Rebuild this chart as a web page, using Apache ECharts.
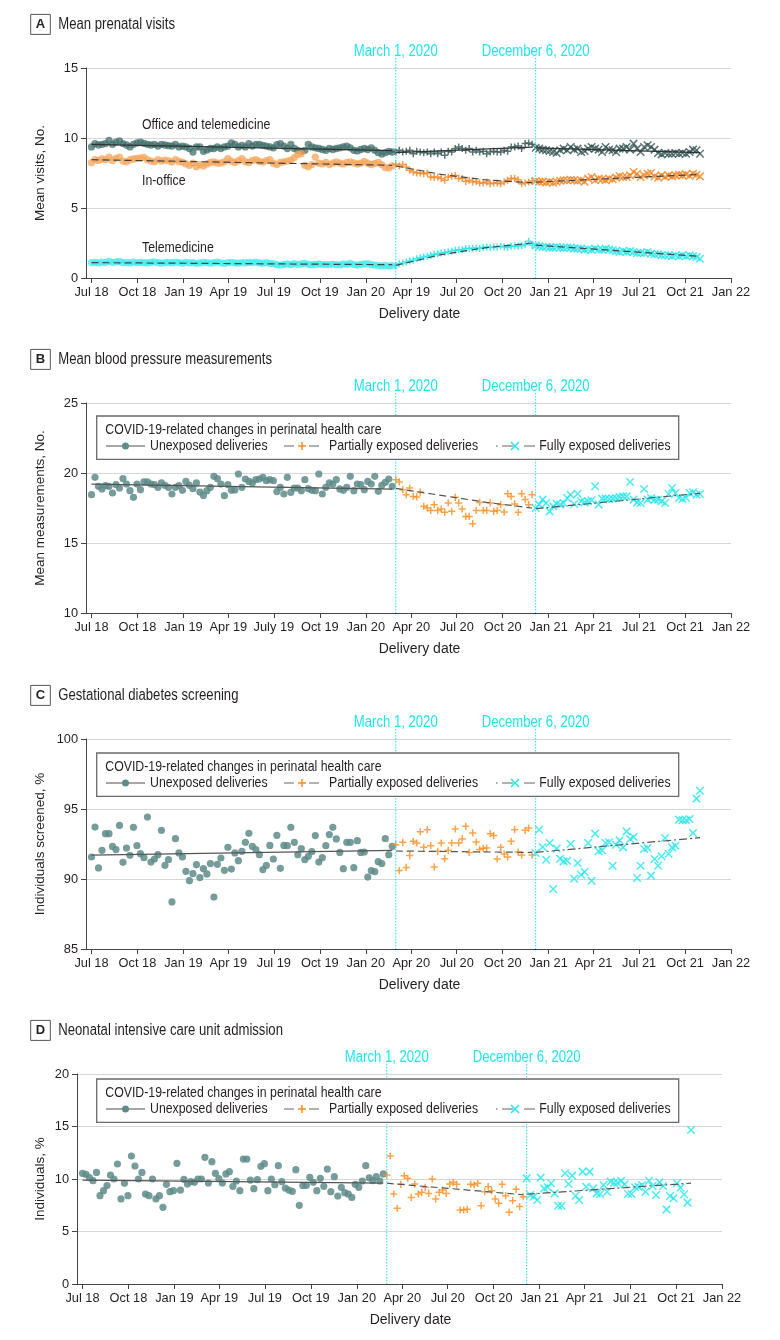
<!DOCTYPE html>
<html><head><meta charset="utf-8">
<script src="https://cdn.jsdelivr.net/npm/echarts@6/dist/echarts.min.js"></script>
<style>html,body{margin:0;padding:0;background:#fff}#c{width:780px;height:1340px}</style>
</head><body><div id="c"></div>
<script>
// ---------------- DATA ----------------
// weekly deliveries starting week of Jul 1, 2018; periods: unexposed, partially exposed (from Mar 1 2020), fully exposed (from Dec 6 2020)
const quarterTicks = ['2018-07-01','2018-10-01','2019-01-01','2019-04-01','2019-07-01','2019-10-01','2020-01-01','2020-04-01','2020-07-01','2020-10-01','2021-01-01','2021-04-01','2021-07-01','2021-10-01','2022-01-01'];
const tickLabelsA = ['Jul 18','Oct 18','Jan 19','Apr 19','Jul 19','Oct 19','Jan 20','Apr 19','Jul 20','Oct 20','Jan 21','Apr 19','Jul 21','Oct 21','Jan 22'];
const tickLabelsB = ['Jul 18','Oct 18','Jan 19','Apr 19','July 19','Oct 19','Jan 20','Apr 20','Jul 20','Oct 20','Jan 21','Apr 21','Jul 21','Oct 21','Jan 22'];
const tickLabelsCD = ['Jul 18','Oct 18','Jan 19','Apr 19','Jul 19','Oct 19','Jan 20','Apr 20','Jul 20','Oct 20','Jan 21','Apr 21','Jul 21','Oct 21','Jan 22'];
const eventDates = ['2020-03-01','2020-12-06'];
const eventLabels = ['March 1, 2020','December 6, 2020'];
const legendTitle = 'COVID-19-related changes in perinatal health care';
const legendNames = ['Unexposed deliveries','Partially exposed deliveries','Fully exposed deliveries'];

// Panel A: mean prenatal visits
const aOfficeTeleUnexp = [9.36,9.6,9.5,9.55,9.6,9.83,9.55,9.7,9.8,9.6,9.5,9.36,9.55,9.65,9.7,9.62,9.55,9.5,9.55,9.42,9.55,9.5,9.45,9.42,9.55,9.36,9.42,9.36,9.25,9.0,9.36,9.36,9.05,9.15,9.25,9.25,9.36,9.25,9.36,9.42,9.65,9.55,9.36,9.48,9.36,9.6,9.42,9.55,9.55,9.48,9.42,9.36,9.3,9.52,9.6,9.42,9.25,9.55,9.25,9.12,9.05,9.12,9.55,9.36,9.3,9.25,9.18,9.12,9.25,9.18,9.25,9.3,9.36,9.42,9.3,9.12,9.08,9.18,9.25,9.18,9.3,9.12,8.95,8.85,8.95,9.05,9.0];
const aOfficeTelePart = [9.0,9.12,9.0,9.05,9.12,8.88,9.05,9.0,8.95,9.0,8.88,9.0,8.88,9.0,8.76,9.05,9.0,9.25,9.36,9.25,9.12,9.25,9.0,9.12,9.0,9.05,8.88,9.0,9.05,9.0,9.0,9.12,9.05,9.36,9.36,9.42,9.25,9.6,9.65,9.55];
const aOfficeTeleFull = [9.31,9.24,9.17,9.12,9.07,9.0,8.93,9.12,9.24,9.12,9.36,9.17,9.24,9.0,9.07,9.24,9.36,9.24,9.17,9.0,9.36,9.17,9.12,9.0,9.24,9.24,9.36,9.17,9.6,9.24,9.0,9.36,9.48,9.36,9.17,8.93,8.83,8.93,8.88,8.88,8.93,8.88,8.93,8.88,9.0,9.17,9.12,8.88];
const aInOfficeUnexp = [8.24,8.45,8.4,8.5,8.45,8.64,8.4,8.55,8.64,8.35,8.3,8.45,8.5,8.55,8.58,8.62,8.45,8.35,8.3,8.45,8.35,8.42,8.38,8.28,8.45,8.32,8.28,8.15,8.05,8.2,7.95,8.1,8.0,8.15,8.25,8.3,8.2,8.22,8.3,8.52,8.35,8.25,8.38,8.52,8.3,8.25,8.4,8.45,8.32,8.28,8.38,8.45,8.2,8.1,8.25,8.3,8.35,8.42,8.6,8.83,8.88,8.05,7.95,8.1,8.64,8.2,8.15,8.25,8.1,8.2,8.3,8.2,8.15,8.25,8.3,8.22,8.15,8.2,8.32,8.2,8.1,8.18,8.25,8.1,7.9,7.86,8.0];
const aInOfficePart = [8.12,8.0,8.1,7.93,7.69,7.57,7.5,7.5,7.45,7.5,7.21,7.17,7.21,7.1,6.98,7.21,7.26,7.33,7.1,7.1,6.9,6.98,6.86,6.9,6.79,6.79,6.86,6.74,6.79,6.79,6.74,6.86,6.98,7.1,7.1,7.02,6.74,6.79,6.86,6.93];
const aInOfficeFull = [6.93,6.88,6.88,6.83,6.88,6.81,6.88,6.95,6.98,6.98,7.02,6.98,6.95,6.98,6.88,7.1,7.21,6.98,7.1,7.05,6.98,7.1,7.05,7.17,7.29,7.21,7.21,7.33,7.57,7.45,7.21,7.33,7.45,7.5,7.26,7.17,7.33,7.21,7.33,7.26,7.33,7.38,7.33,7.4,7.29,7.45,7.38,7.26];
const aTeleUnexp = [1.1,1.12,1.08,1.14,1.1,1.2,1.12,1.15,1.18,1.1,1.12,1.08,1.14,1.1,1.12,1.1,1.08,1.12,1.15,1.1,1.06,1.1,1.12,1.08,1.14,1.1,1.06,1.12,1.08,1.1,1.05,1.08,1.12,1.1,1.06,1.1,1.14,1.08,1.05,1.1,1.12,1.08,1.06,1.1,1.08,1.12,1.1,1.14,1.08,1.06,1.1,1.05,1.02,0.95,0.92,0.98,1.0,0.96,1.02,0.98,1.0,1.04,0.98,0.95,0.98,1.0,0.96,0.98,0.95,0.98,0.96,0.94,1.0,0.98,1.04,0.96,0.92,0.98,1.0,1.02,0.95,0.92,0.88,0.86,0.9,0.85,0.88];
const aTelePart = [0.9,1.02,1.07,1.14,1.21,1.26,1.38,1.45,1.5,1.55,1.62,1.69,1.74,1.79,1.83,1.88,1.93,1.98,2.02,2.02,2.1,2.1,2.12,2.14,2.1,2.17,2.21,2.17,2.21,2.21,2.26,2.21,2.17,2.26,2.29,2.29,2.33,2.4,2.62,2.36];
const aTeleFull = [2.33,2.26,2.21,2.21,2.17,2.17,2.21,2.17,2.14,2.17,2.17,2.1,2.1,2.1,2.02,2.05,2.02,2.1,2.02,2.02,2.1,2.02,1.98,1.93,1.86,1.93,1.86,1.93,1.86,1.79,1.79,1.79,1.86,1.74,1.69,1.69,1.62,1.62,1.62,1.55,1.62,1.55,1.62,1.55,1.62,1.55,1.5,1.38];
const trendAOfficeTele = [[9.55,9.1],[8.95,9.35],[9.3,8.95]];
const trendAInOffice = [[8.45,8.05],[8.0,7.4,7.0,6.8],[6.85,7.4]];
const trendATele = [[1.1,0.95],[0.9,1.67,2.17,2.5],[2.35,1.55]];

// Panel B: mean blood pressure measurements
const bUnexp = [18.45,19.69,19.05,18.86,19.10,19.05,18.57,19.17,18.93,19.6,19.21,18.74,18.26,19.21,18.81,19.36,19.36,19.21,19.17,18.98,19.29,19.12,18.98,18.5,18.98,19.1,18.76,19.4,19.12,18.88,19.29,18.64,18.4,18.74,18.98,19.76,19.6,19.21,18.38,19.17,18.76,18.79,19.93,18.98,19.57,19.4,19.29,19.52,19.57,19.69,19.45,19.52,19.45,18.67,18.98,18.5,19.69,18.62,18.93,18.93,18.74,19.52,18.88,18.76,18.74,19.93,18.5,18.98,19.29,19.21,19.52,18.86,18.76,18.98,19.76,18.74,19.21,19.17,18.81,19.4,19.21,19.76,18.69,19.12,19.33,19.57,19.05];
const bPart = [19.52,19.36,18.81,18.45,18.93,18.33,18.29,18.64,17.62,17.5,17.33,17.74,17.33,17.43,17.19,17.86,17.26,18.26,17.86,17.43,16.9,16.9,16.38,17.33,17.9,17.33,17.33,17.86,17.26,17.33,17.74,17.21,18.52,18.33,17.79,17.19,18.52,18.1,17.74,18.45];
const bFull = [17.5,17.74,18.1,17.86,17.26,17.62,17.81,17.74,17.86,18.21,18.45,17.79,18.52,17.98,17.9,17.98,18.05,19.05,17.74,18.17,18.17,18.14,18.17,18.21,18.29,18.33,18.33,19.36,18.1,17.9,17.86,18.86,18.1,18.21,18.1,18.1,17.98,17.86,18.5,18.93,18.57,18.21,18.14,18.21,18.57,18.62,18.45,18.5];
const trendB = [[19.2,18.85],[18.9,18.4,17.9,17.5],[17.45,18.55]];

// Panel C: gestational diabetes screening (%)
const cUnexp = [91.57,93.71,90.79,92.05,93.24,93.24,92.33,92.1,93.83,91.19,92.21,91.69,93.69,92.38,91.81,91.52,94.43,91.21,91.43,91.74,93.48,90.98,91.38,88.36,92.88,91.86,91.57,90.55,89.88,90.38,91.02,90.1,90.74,90.36,91.1,88.71,91.05,91.5,90.62,92.26,90.71,91.86,91.31,91.98,92.62,93.26,92.33,92.1,91.74,90.67,90.98,92.4,91.43,93.12,90.76,92.4,92.38,93.69,92.62,91.74,92.17,91.38,91.62,91.95,93.1,91.21,91.52,92.38,93.17,93.69,92.86,91.9,90.74,92.62,92.62,90.81,92.74,91.9,91.93,90.14,90.6,90.52,91.24,91.1,92.88,91.74,92.33];
const cPart = [92.45,90.6,92.62,90.83,91.67,92.69,92.57,93.38,92.26,93.52,92.38,90.86,91.98,92.57,91.45,92.05,92.57,93.57,92.57,92.86,93.76,91.9,93.29,92.64,92.1,92.19,92.21,93.24,93.1,91.43,92.26,91.79,91.57,92.69,93.52,91.93,91.71,93.48,93.64,91.71];
const cFull = [91.86,93.52,92.29,91.38,92.57,89.29,92.17,91.45,91.26,91.31,92.52,90.02,91.14,90.31,90.5,92.57,89.88,93.24,91.98,92.05,92.57,92.62,90.95,92.45,92.76,92.26,93.4,92.86,93.0,90.07,90.95,92.14,92.21,90.24,91.43,90.95,91.62,92.93,91.81,92.26,92.38,94.24,94.19,94.19,94.29,93.29,95.74,96.31];
const trendC = [[91.7,92.05],[92.0,91.9],[91.9,92.95]];

// Panel D: NICU admission (%)
const dUnexp = [10.54,10.44,10.13,9.84,10.63,8.41,8.89,9.37,10.38,10.0,11.43,8.1,9.59,8.41,12.19,11.24,10.0,10.63,8.57,8.41,10.0,8.1,8.41,7.3,9.49,8.79,8.89,11.49,8.95,9.97,9.52,9.75,9.68,10.0,10.0,12.06,9.62,11.65,10.54,10.03,9.62,10.48,10.7,9.3,9.81,8.89,11.9,11.9,9.9,9.08,9.94,11.21,11.46,8.89,10.0,9.46,11.27,9.75,9.14,8.95,8.83,10.89,7.49,9.37,9.4,10.16,9.68,8.89,10.06,9.3,10.95,8.79,10.22,8.38,9.21,8.7,8.57,8.25,9.49,9.21,9.81,11.27,10.1,9.84,10.22,9.81,10.48];
const dPart = [10.38,12.19,8.57,7.21,9.49,10.32,10.06,8.25,9.52,8.57,8.73,9.21,8.63,10.0,8.1,8.73,8.95,8.63,9.52,9.68,9.49,7.05,7.05,7.11,9.49,9.43,9.59,7.46,8.79,9.27,8.89,8.1,7.68,9.49,8.41,6.83,7.94,9.02,7.37,8.32];
const dFull = [10.06,8.48,8.32,8.0,10.13,9.11,9.21,9.59,8.63,7.46,7.46,10.54,9.52,10.32,8.41,8.0,10.7,9.27,10.7,9.11,8.63,8.57,9.43,8.79,9.75,9.65,9.65,9.84,9.49,8.57,8.57,9.21,9.27,9.43,8.79,9.84,9.33,8.48,9.68,9.33,7.11,8.38,8.16,9.59,9.17,8.54,7.75,14.67];
const trendD = [[9.9,9.6],[9.6,8.5],[8.55,9.6]];

// ---------------- STYLE / LAYOUT ----------------
const FONT = '"Liberation Sans", Arial, sans-serif';
const SX = 0.82; // horizontal condensing of decorative text to match the narrow journal typeface
const CYAN = '#1fe6ee';
const TEXT = '#231f20';
const DAY = 86400000;
const WEEK0 = Date.UTC(2018, 6, 1);
const toTs = s => { const p = s.split('-').map(Number); return Date.UTC(p[0], p[1]-1, p[2]); };
const tickTs = quarterTicks.map(toTs);
const weekDate = i => WEEK0 + i * 7 * DAY;
const SYM = { circle: 'circle', plus: 'path://M5,0L5,10M0,5L10,5', cross: 'path://M0,0L10,10M10,0L0,10' };
const kinds = ['circle', 'plus', 'cross'];
const dashes = ['solid', [7, 4], [8, 3, 2, 3]];

const panels = [
  { letter:'A', title:'Mean prenatal visits', yName:'Mean visits, No.', yMin:0, yMax:15,
    grid:{left:86, top:68, width:645, height:210}, labels: tickLabelsA, legendTop:null,
    groups:[
      {periods:[aOfficeTeleUnexp,aOfficeTelePart,aOfficeTeleFull], trend:trendAOfficeTele, colors:['#40706c','#2f5250','#2f5250'], trendColor:'#333', trendDash:['solid','solid','solid']},
      {periods:[aInOfficeUnexp,aInOfficePart,aInOfficeFull], trend:trendAInOffice, colors:['#f7a65a','#f5821f','#f5821f'], trendColor:'#444', trendDash:[[7,4],[7,4],[7,4]]},
      {periods:[aTeleUnexp,aTelePart,aTeleFull], trend:trendATele, colors:['#43ecec','#1fe6ee','#1fe6ee'], trendColor:'#444', trendDash:[[7,4],[7,4],[7,4]]}
    ], symSize:[7.3,7,7.5], circleOpacity:0.75 },
  { letter:'B', title:'Mean blood pressure measurements', yName:'Mean measurements, No.', yMin:10, yMax:25,
    grid:{left:86, top:403, width:645, height:210}, labels: tickLabelsB, legendTop:416,
    groups:[{periods:[bUnexp,bPart,bFull], trend:trendB, colors:['#5e8c89','#ff8c1a','#1fe6ee'], trendColor:'#555', trendDash:dashes}], symSize:[7.2,7.2,7.5], circleOpacity:0.85 },
  { letter:'C', title:'Gestational diabetes screening', yName:'Individuals screened, %', yMin:85, yMax:100,
    grid:{left:86, top:739, width:645, height:210}, labels: tickLabelsCD, legendTop:753,
    groups:[{periods:[cUnexp,cPart,cFull], trend:trendC, colors:['#5e8c89','#ff8c1a','#1fe6ee'], trendColor:'#555', trendDash:dashes}], symSize:[7.2,7.2,7.5], circleOpacity:0.85 },
  { letter:'D', title:'Neonatal intensive care unit admission', yName:'Individuals, %', yMin:0, yMax:20,
    grid:{left:77, top:1074, width:645, height:210}, labels: tickLabelsCD, legendTop:1079,
    groups:[{periods:[dUnexp,dPart,dFull], trend:trendD, colors:['#5e8c89','#ff8c1a','#1fe6ee'], trendColor:'#555', trendDash:dashes}], symSize:[7.2,7.2,7.5], circleOpacity:0.85 }
];
const annotationsA = [
  {text:'Office and telemedicine', x:142, y:125},
  {text:'In-office', x:142, y:181},
  {text:'Telemedicine', x:142, y:248}
];

// ---------------- BUILD ----------------
const grids = [], xAxes = [], yAxes = [], series = [];
panels.forEach((p, k) => {
  grids.push(Object.assign({containLabel:false}, p.grid));
  xAxes.push({
    type:'value', gridIndex:k, min: toTs('2018-06-20'), max: toTs('2022-01-01'),
    axisLine:{show:true, onZero:false, lineStyle:{color:'#444', width:1}},
    axisTick:{show:true, length:5, customValues: tickTs, lineStyle:{color:'#444'}},
    axisLabel:{customValues: tickTs, margin:8, color:TEXT, fontFamily:FONT, fontSize:12.8, hideOverlap:false,
      formatter: (v) => { let best = 0; tickTs.forEach((t, j) => { if (Math.abs(t - v) < Math.abs(tickTs[best] - v)) best = j; }); return p.labels[best]; }},
    splitLine:{show:false},
    name:'Delivery date', nameLocation:'middle', nameGap:29, nameMoveOverlap:false,
    nameTextStyle:{fontFamily:FONT, fontSize:14, color:TEXT, padding:[0,0,0,22]}
  });
  yAxes.push({
    type:'value', gridIndex:k, min:p.yMin, max:p.yMax, interval:5,
    axisLine:{show:true, onZero:false, lineStyle:{color:'#444', width:1}},
    axisTick:{show:true, length:5, lineStyle:{color:'#444'}},
    axisLabel:{margin:8, color:TEXT, fontFamily:FONT, fontSize:12.8},
    splitLine:{show:true, lineStyle:{color:'#d6d6d6', width:1.2}},
    name:p.yName, nameLocation:'middle', nameRotate:90, nameGap: p.grid.left - 47, nameMoveOverlap:false,
    nameTextStyle:{fontFamily:FONT, fontSize:13.5, color:TEXT}
  });
  p.groups.forEach(g => {
    let offset = 0;
    const ranges = [];
    g.periods.forEach((vals, j) => {
      const off = offset;
      ranges.push([off, off + vals.length - 1]);
      const kind = kinds[j];
      const s = { type:'scatter', xAxisIndex:k, yAxisIndex:k, silent:true, z:3,
        data: vals.map((v, n) => [weekDate(off + n), v]),
        symbol: SYM[kind], symbolSize: p.symSize[j] };
      if (kind === 'circle') s.itemStyle = { color: g.colors[j], opacity: p.circleOpacity };
      else s.itemStyle = { color: 'rgba(0,0,0,0)', borderColor: g.colors[j], borderWidth: 1.5 };
      series.push(s);
      offset += vals.length;
    });
    g.trend.forEach((seg, j) => {
      const [a, b] = ranges[j];
      series.push({ type:'line', xAxisIndex:k, yAxisIndex:k, silent:true, z:4,
        showSymbol:false, symbol:'none',
        data: seg.map((v, n) => [weekDate(a + (b - a) * n / (seg.length - 1)), v]),
        lineStyle:{ color: g.trendColor, width: 1.2, type: g.trendDash[j] } });
    });
  });
});

const chart = echarts.init(document.getElementById('c'), null, {renderer:'canvas'});
chart.setOption({ animation:false, backgroundColor:'#fff', grid:grids, xAxis:xAxes, yAxis:yAxes, series });

// ---------------- DECORATIONS ----------------
const gfx = [];
function txt(x, y, text, size, opt) {
  opt = opt || {};
  return {type:'text', x:x, y:y, scaleX: SX, z: opt.z || 31,
    style:{text:text, font:(opt.weight ? opt.weight + ' ' : '') + size + 'px ' + FONT, fill: opt.fill || TEXT,
      textAlign: opt.align || 'left', textVerticalAlign:'middle'}};
}
panels.forEach((p, k) => {
  const ty = p.grid.top - 43.6;
  gfx.push({type:'rect', shape:{x:30.7, y:ty-10, width:19.6, height:20}, style:{fill:'#fff', stroke:'#555', lineWidth:1}, z:10});
  gfx.push({type:'text', x:40.5, y:ty, style:{text:p.letter, font:'bold 13px ' + FONT, fill:TEXT, textAlign:'center', textVerticalAlign:'middle'}, z:11});
  gfx.push(txt(58.3, ty, p.title, 16, {z:11}));
  eventDates.forEach((d, j) => {
    const x = chart.convertToPixel({xAxisIndex:k}, toTs(d));
    gfx.push({type:'line', shape:{x1:x, y1:p.grid.top - 10, x2:x, y2:p.grid.top + p.grid.height}, style:{stroke:CYAN, lineWidth:1, lineDash:[1.5, 1.5]}, z:20});
    gfx.push(txt(x, p.grid.top - 16, eventLabels[j], 16, {fill:CYAN, align:'center', z:20}));
  });
  if (p.legendTop !== null) {
    const t = p.legendTop, cy = t + 30, c = p.groups[0].colors;
    gfx.push({type:'rect', shape:{x:96.7, y:t, width:582, height:43.3}, style:{fill:'#fff', stroke:'#6a6a6a', lineWidth:1.3}, z:30});
    gfx.push(txt(105.3, t + 13.6, legendTitle, 15));
    gfx.push({type:'line', shape:{x1:106, y1:cy, x2:145, y2:cy}, style:{stroke:'#888', lineWidth:1.3}, z:31});
    gfx.push({type:'circle', shape:{cx:125.5, cy:cy, r:3.5}, style:{fill:c[0]}, z:32});
    gfx.push(txt(150, cy, legendNames[0], 15));
    gfx.push({type:'line', shape:{x1:284, y1:cy, x2:294, y2:cy}, style:{stroke:'#888', lineWidth:1.3}, z:31});
    gfx.push({type:'line', shape:{x1:309, y1:cy, x2:319, y2:cy}, style:{stroke:'#888', lineWidth:1.3}, z:31});
    gfx.push({type:'line', shape:{x1:302, y1:cy-4, x2:302, y2:cy+4}, style:{stroke:c[1], lineWidth:1.5}, z:32});
    gfx.push({type:'line', shape:{x1:298, y1:cy, x2:306, y2:cy}, style:{stroke:c[1], lineWidth:1.5}, z:32});
    gfx.push(txt(329, cy, legendNames[1], 15));
    gfx.push({type:'line', shape:{x1:496, y1:cy, x2:497.5, y2:cy}, style:{stroke:'#888', lineWidth:1.3}, z:31});
    gfx.push({type:'line', shape:{x1:502, y1:cy, x2:513, y2:cy}, style:{stroke:'#888', lineWidth:1.3}, z:31});
    gfx.push({type:'line', shape:{x1:524, y1:cy, x2:535, y2:cy}, style:{stroke:'#888', lineWidth:1.3}, z:31});
    gfx.push({type:'line', shape:{x1:511, y1:cy-4, x2:519, y2:cy+4}, style:{stroke:c[2], lineWidth:1.5}, z:32});
    gfx.push({type:'line', shape:{x1:519, y1:cy-4, x2:511, y2:cy+4}, style:{stroke:c[2], lineWidth:1.5}, z:32});
    gfx.push(txt(539.3, cy, legendNames[2], 15));
  }
});
annotationsA.forEach(a => gfx.push(txt(a.x, a.y, a.text, 15, {z:15})));
chart.setOption({ graphic: { elements: gfx } });
</script>
</body></html>
